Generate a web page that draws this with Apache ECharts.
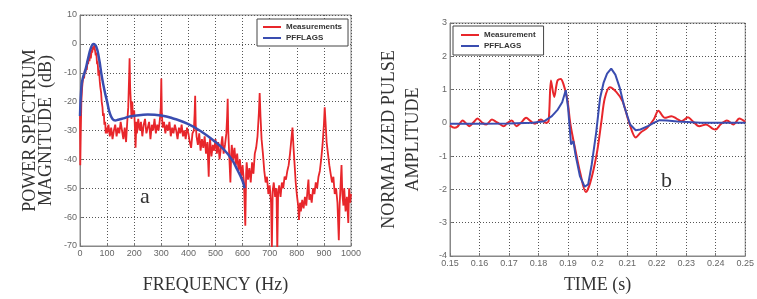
<!DOCTYPE html>
<html>
<head>
<meta charset="UTF-8">
<title></title>
<style type="text/css">
  html, body { margin: 0; padding: 0; background: #fff; }
  #main { width: 757px; height: 299px; }
</style>
</head>
<body>
<div id="main"></div>
<script src="https://cdn.jsdelivr.net/npm/echarts@6/dist/echarts.min.js"></script>
<script type="text/javascript">
// panel a: power spectrum, measured (Hz / dB)
let specFreq = [
  0, 1, 3, 5, 8, 10, 13, 15, 18, 20, 23, 25, 28, 30, 33, 35, 38, 40, 43, 45, 48, 50, 52, 55, 58, 60, 63, 65, 68, 70, 73, 75, 78, 80, 83, 85, 88, 90, 93, 95, 98,
  100, 105, 110, 115, 120, 125, 130, 135, 140, 145, 150, 155, 160, 165, 170, 175,
  178, 181, 183, 185, 188, 190, 193, 195,
  200, 203, 205, 208,
  210, 215, 220, 225, 230, 235, 240, 245, 250, 255, 260, 265, 270, 275, 280, 285, 290, 295,
  298, 300, 302, 305,
  310, 315, 320, 325, 330, 335, 340, 345, 350, 355, 360, 365, 370, 375, 380, 385, 390, 395, 400, 405, 410, 415, 420,
  423, 425, 427,
  430, 435, 440, 445, 450, 455, 460, 465, 470,
  475, 478,
  480, 485, 490, 495, 500, 505, 510, 515, 520, 525, 530, 535, 540,
  543, 545, 547,
  550, 555, 558,
  560, 565, 570, 575, 580, 585, 590, 595, 600, 605,
  610, 613,
  615, 620, 625, 630, 635, 640, 645, 650, 655, 660,
  663, 666,
  670, 675, 680, 685, 690, 695, 700, 705,
  708, 711,
  715, 720, 725,
  728, 731,
  735, 740, 745, 750, 755, 760, 765, 770, 775, 780,
  784, 788, 792, 796,
  800, 805, 808, 812,
  815, 820, 825, 830, 835, 840,
  843, 846,
  850, 855, 860, 865, 870, 875, 880, 885, 890, 895, 900,
  903, 906,
  910, 915, 920, 925, 930, 935, 940, 945, 950,
  955, 958, 962, 965, 968, 972, 975, 980, 985, 990, 993, 997, 1000
];
let specMeas = [
  -25, -42, -30, -20, -15, -13, -11, -12, -9, -10, -8, -9, -6, -7, -4, -6, -3, -5, -2, -3, -1, -2, -0.5, -2, -4, -3, -7, -6, -11, -9, -13, -15, -17, -20, -22, -25, -24, -28, -27, -31, -29,
  -31, -28, -32, -29, -33, -30, -28, -32, -29, -31, -27, -30, -33, -29, -34, -26,
  -22, -12, -5, -15, -21, -26, -20, -25,
  -23, -30, -36, -27,
  -31, -26, -30, -27, -32, -28, -26, -31, -29, -27, -33, -28, -30, -26, -31, -28, -30, -26,
  -22, -12, -24, -29,
  -27, -31, -28, -30, -27, -32, -29, -31, -28, -30, -33, -29, -31, -28, -32, -30, -33, -29, -31, -34, -36, -31, -30,
  -24, -18, -28,
  -32, -35, -31, -37, -33, -36, -32, -38, -34,
  -46, -35,
  -33, -39, -35, -37, -33, -38, -34, -40, -36, -32, -38, -35, -31,
  -25, -19, -30,
  -37, -48, -38,
  -35, -40, -36, -42, -38, -44, -40, -46, -42, -48,
  -63, -45,
  -41, -47, -43, -48, -41, -45, -38, -36, -32, -24,
  -17, -25,
  -33, -38, -44, -48, -46, -52, -49, -55,
  -71, -51,
  -48, -53, -50,
  -72, -52,
  -49, -53, -48, -50, -46, -47, -44, -42, -38, -33,
  -29, -36, -42, -48,
  -52, -56, -61, -55,
  -58, -54, -57, -53, -56, -50,
  -47, -54,
  -52, -55, -50, -52, -48, -50, -46, -44, -40, -35, -28,
  -22, -27,
  -34, -38, -42, -45, -48, -46, -52, -50, -55,
  -68, -56, -48, -42, -52, -56, -50, -58, -53, -62, -50, -55, -52
];
// panel a: PFFLAGS model
let fitFreq = [0, 5, 10, 20, 30, 40, 50, 60, 70, 80, 90, 100, 110, 120, 130, 140, 160, 180, 200, 250, 300, 350, 400, 450, 500, 530, 560, 580, 600, 607];
let fitDb = [-25, -15, -12, -9, -5, -1.5, 0, -1, -5, -11, -16, -20, -24, -26, -26.5, -26.3, -25.8, -25.2, -24.9, -24.5, -24.8, -26, -27.8, -30.5, -34, -36.5, -40, -43.5, -47.5, -50];

// panel b: normalized pulse
let pulseTime = [0.150, 0.1515, 0.1525, 0.1543, 0.1555, 0.1566, 0.1580, 0.1593, 0.1610, 0.1623, 0.1642, 0.1655, 0.1666, 0.1682, 0.1695, 0.1709, 0.1725, 0.1740, 0.1758, 0.1773, 0.1788, 0.1808, 0.1825, 0.1834, 0.1842, 0.1853, 0.1864, 0.1875, 0.1884, 0.1897, 0.1908, 0.1925, 0.1941, 0.1960, 0.1975, 0.1997, 0.2013, 0.2024, 0.2041, 0.2063, 0.2085, 0.2107, 0.2129, 0.2146, 0.2168, 0.2190, 0.2206, 0.2228, 0.2250, 0.2267, 0.2284, 0.2306, 0.2322, 0.2344, 0.2367, 0.2389, 0.2400, 0.2416, 0.2438, 0.2460, 0.2480, 0.2500];
let pulseMeas = [-0.08, -0.15, -0.12, 0.07, -0.02, -0.10, 0.02, 0.13, 0.0, -0.05, 0.10, 0.04, -0.02, -0.10, 0.0, 0.07, -0.10, 0.0, 0.15, 0.05, -0.03, 0.10, 0.0, 0.05, 1.27, 0.78, 1.27, 1.32, 1.17, 0.73, -0.05, -0.83, -1.5, -2.08, -1.8, -0.93, 0.05, 0.73, 1.07, 0.93, 0.64, 0.0, -0.44, -0.29, -0.15, 0.10, 0.36, 0.15, 0.2, 0.13, 0.05, 0.17, 0.05, -0.10, -0.05, -0.17, -0.20, -0.05, 0.07, -0.05, 0.13, 0.03];
let fitTime = [0.150, 0.160, 0.170, 0.178, 0.182, 0.1845, 0.1865, 0.1880, 0.1892, 0.1900, 0.1905, 0.1910, 0.1914, 0.1918, 0.1925, 0.1940, 0.1956, 0.1968, 0.1980, 0.1995, 0.2008, 0.2020, 0.2032, 0.2046, 0.2060, 0.2075, 0.2090, 0.2110, 0.2129, 0.2145, 0.2170, 0.2190, 0.2210, 0.2235, 0.2270, 0.2350, 0.2500];
let fitPulse = [-0.03, -0.03, -0.02, 0.0, 0.05, 0.2, 0.4, 0.62, 0.98, 0.45, -0.1, -0.65, -0.7, -0.55, -0.95, -1.6, -1.92, -1.85, -1.25, -0.3, 0.73, 1.2, 1.48, 1.63, 1.45, 1.05, 0.5, -0.05, -0.22, -0.2, -0.1, 0.0, 0.08, 0.07, 0.04, 0.0, 0.0];

function zip(xs, ys) {
  return xs.map((x, i) => [x, ys[i]]);
}

const RED = '#e8262b';
const BLUE = '#3a4db0';
const serif = '"Liberation Serif", "DejaVu Serif", serif';
const sans = '"Liberation Sans", Arial, sans-serif';

let tickLabel = { fontSize: 9, color: '#666', fontFamily: sans, margin: 3, formatter: v => String(v) };
let gridLine = { show: true, lineStyle: { color: '#555', type: [1, 2], width: 1 } };
let tick = { show: true, inside: true, length: 3, lineStyle: { color: '#777' } };
let line = { show: true, onZero: false, lineStyle: { color: '#888' } };

var myChart = echarts.init(document.getElementById('main'));
var option = {
  backgroundColor: '#fff',
  animation: false,
  grid: [
    { left: 80, top: 15, width: 271, height: 232, show: true, borderColor: '#888', borderWidth: 1 },
    { left: 450, top: 23, width: 302, height: 239, show: true, borderColor: '#888', borderWidth: 1 }
  ],
  legend: [
    {
      left: 257, top: 19, orient: 'vertical', itemGap: 3, padding: [4, 6, 4, 6],
      itemWidth: 18, itemHeight: 2, icon: 'rect',
      borderColor: '#444', borderWidth: 1, backgroundColor: '#fff',
      textStyle: { fontSize: 8, fontWeight: 'bold', color: '#333', fontFamily: sans },
      data: ['Measurements', 'PFFLAGS']
    },
    {
      left: 453, top: 26, orient: 'vertical', itemGap: 3, padding: [5, 8, 5, 8],
      itemWidth: 18, itemHeight: 2, icon: 'rect',
      borderColor: '#444', borderWidth: 1, backgroundColor: '#fff',
      textStyle: { fontSize: 8, fontWeight: 'bold', color: '#333', fontFamily: sans },
      data: ['Measurement', 'PFFLAGS']
    }
  ],
  xAxis: [
    {
      gridIndex: 0, type: 'value', min: 0, max: 1000, interval: 100,
      axisLine: line, axisTick: tick, axisLabel: tickLabel, splitLine: gridLine,
      name: 'FREQUENCY (Hz)', nameLocation: 'middle', nameGap: 30,
      nameTextStyle: { fontFamily: serif, fontSize: 18, color: '#333' }
    },
    {
      gridIndex: 1, type: 'value', min: 0.15, max: 0.25, interval: 0.01,
      axisLine: line, axisTick: tick, axisLabel: tickLabel, splitLine: gridLine,
      name: 'TIME (s)', nameLocation: 'middle', nameGap: 20,
      nameTextStyle: { fontFamily: serif, fontSize: 18, color: '#333' }
    }
  ],
  yAxis: [
    {
      gridIndex: 0, type: 'value', min: -70, max: 10, interval: 10,
      axisLine: line, axisTick: tick, axisLabel: tickLabel, splitLine: gridLine,
      name: 'POWER SPECTRUM\nMAGNITUDE  (dB)', nameLocation: 'middle', nameGap: 26,
      nameTextStyle: { fontFamily: serif, fontSize: 18, color: '#333', lineHeight: 16 }
    },
    {
      gridIndex: 1, type: 'value', min: -4, max: 3, interval: 1,
      axisLine: line, axisTick: tick, axisLabel: tickLabel, splitLine: gridLine,
      name: 'NORMALIZED PULSE\nAMPLITUDE', nameLocation: 'middle', nameGap: 25,
      nameTextStyle: { fontFamily: serif, fontSize: 18, color: '#333', lineHeight: 24 }
    }
  ],
  graphic: [
    { type: 'text', left: 140, top: 186, style: { text: 'a', font: '22px ' + serif, fill: '#333' } },
    { type: 'text', left: 661, top: 170, style: { text: 'b', font: '22px ' + serif, fill: '#333' } }
  ],
  series: [
    {
      name: 'Measurements', type: 'line', xAxisIndex: 0, yAxisIndex: 0,
      data: zip(specFreq, specMeas), showSymbol: false, color: RED,
      lineStyle: { width: 1.8, color: RED }, z: 2
    },
    {
      name: 'PFFLAGS', type: 'line', xAxisIndex: 0, yAxisIndex: 0, smooth: true,
      data: zip(fitFreq, fitDb), showSymbol: false, color: BLUE,
      lineStyle: { width: 2.5, color: BLUE }, z: 3
    },
    {
      name: 'Measurement', type: 'line', xAxisIndex: 1, yAxisIndex: 1, smooth: 0.3,
      data: zip(pulseTime, pulseMeas), showSymbol: false, color: RED,
      lineStyle: { width: 2, color: RED }, z: 2
    },
    {
      name: 'PFFLAGS', type: 'line', xAxisIndex: 1, yAxisIndex: 1,
      data: zip(fitTime, fitPulse), showSymbol: false, color: BLUE,
      lineStyle: { width: 2, color: BLUE }, z: 3
    }
  ]
};

myChart.setOption(option);
</script>
</body>
</html>
